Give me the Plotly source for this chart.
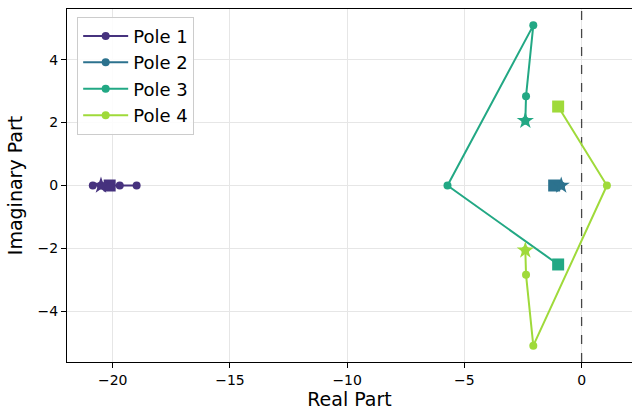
import plotly.graph_objects as go

# Pole trajectories (real, imag); first point = start (square), last = end (star)
pole1_re = [-20.13, -19.7, -18.98, -20.85, -20.5]
pole1_im = [0.0, 0.0, 0.0, 0.0, 0.0]
pole2_re = [-1.17, -1.08, -1.0, -0.94, -0.87]
pole2_im = [0.0, 0.0, 0.0, 0.0, 0.0]
pole3_re = [-1.0, -5.72, -2.06, -2.37, -2.40]
pole3_im = [-2.51, 0.0, 5.09, 2.84, 2.06]
pole4_re = [-1.0, 1.08, -2.06, -2.37, -2.40]
pole4_im = [2.51, 0.0, -5.09, -2.84, -2.06]

# Axis limits and reference line
x_range = [-21.95, 2.15]
y_range = [-5.61, 5.61]
ref_x = 0

names = ["Pole 1", "Pole 2", "Pole 3", "Pole 4"]
colors = ["#46327e", "#2c728e", "#22a884", "#9fda3a"]
series = [(pole1_re, pole1_im), (pole2_re, pole2_im), (pole3_re, pole3_im), (pole4_re, pole4_im)]

FONT = "DejaVu Sans"
fig = go.Figure()

# dashed imaginary-axis line
fig.add_trace(go.Scatter(
    x=[ref_x, ref_x], y=y_range, mode="lines", showlegend=False, hoverinfo="skip",
    line=dict(color="rgba(0,0,0,0.7)", width=1.3, dash="dash"),
))

for i, ((re, im), name, c) in enumerate(zip(series, names, colors)):
    fig.add_trace(go.Scatter(
        x=re, y=im, mode="lines+markers", name=name,
        line=dict(color=c, width=2),
        marker=dict(symbol="circle", size=8, color=c),
        legendgroup=name,
    ))
for i, ((re, im), name, c) in enumerate(zip(series, names, colors)):
    fig.add_trace(go.Scatter(
        x=[re[0]], y=[im[0]], mode="markers", showlegend=False,
        marker=dict(symbol="square", size=12, color=c), legendgroup=name,
    ))
    fig.add_trace(go.Scatter(
        x=[re[-1]], y=[im[-1]], mode="markers", showlegend=False,
        marker=dict(symbol="star", size=13, color=c), legendgroup=name,
    ))

axis_common = dict(
    showline=True, linecolor="black", linewidth=1, mirror=True,
    ticks="outside", ticklen=5, tickcolor="black", tickwidth=1,
    showgrid=True, gridcolor="#e6e6e6", gridwidth=1, zeroline=False,
    tickfont=dict(family=FONT, size=14, color="black"),
)

fig.update_layout(
    width=632, height=410,
    margin=dict(l=67, r=0, t=9, b=48),
    plot_bgcolor="white", paper_bgcolor="white",
    font=dict(family=FONT, color="black"),
    xaxis=dict(range=x_range, tickvals=[-20, -15, -10, -5, 0],
               ticktext=["\u221220", "\u221215", "\u221210", "\u22125", "0"],
               title=dict(text="Real Part", font=dict(family=FONT, size=19), standoff=5),
               **axis_common),
    yaxis=dict(range=y_range, tickvals=[-4, -2, 0, 2, 4],
               ticktext=["\u22124", "\u22122", "0", "2", "4"],
               title=dict(text="Imaginary Part", font=dict(family=FONT, size=19), standoff=9),
               **axis_common),
    legend=dict(x=0.018, y=0.978, xanchor="left", yanchor="top",
                bgcolor="rgba(255,255,255,0.85)", bordercolor="#cccccc", borderwidth=1,
                font=dict(family=FONT, size=18), traceorder="grouped", tracegroupgap=0,
                itemwidth=45),
    showlegend=True,
)

fig.write_html("out.html")
